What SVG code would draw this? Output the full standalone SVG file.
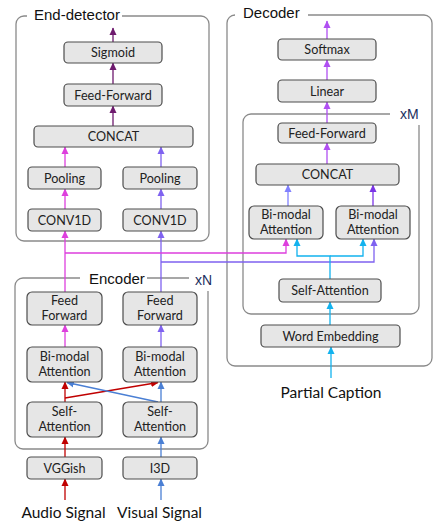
<svg xmlns="http://www.w3.org/2000/svg" width="433" height="523" viewBox="0 0 433 523">
<defs>
<style>
.box{fill:#e6e6e6;stroke:#4d4d4d;stroke-width:1.2}
.lbl{font-family:Lato,"Noto Sans",sans-serif;font-size:12.6px;fill:#222;text-anchor:middle}
.ttl{font-family:"Liberation Sans",Arial,sans-serif;font-size:15px;fill:#111}
.rep{font-family:"Liberation Sans",Arial,sans-serif;font-size:14px;fill:#1c2f5e}
.sig{font-family:Lato,"Noto Sans",sans-serif;font-size:15.5px;fill:#111}
.cont{fill:none;stroke:#8a8a8a;stroke-width:1.3}
.c{fill:none;stroke-width:1.3}
</style>
<marker id="aR" markerWidth="8" markerHeight="8" refX="7" refY="4" orient="auto" markerUnits="userSpaceOnUse"><path d="M0,0.5 L7.5,4 L0,7.5 z" fill="#c00000"/></marker>
<marker id="aB" markerWidth="8" markerHeight="8" refX="7" refY="4" orient="auto" markerUnits="userSpaceOnUse"><path d="M0,0.5 L7.5,4 L0,7.5 z" fill="#4a7fd4"/></marker>
<marker id="aM" markerWidth="8" markerHeight="8" refX="7" refY="4" orient="auto" markerUnits="userSpaceOnUse"><path d="M0,0.5 L7.5,4 L0,7.5 z" fill="#dd3fdd"/></marker>
<marker id="aP" markerWidth="8" markerHeight="8" refX="7" refY="4" orient="auto" markerUnits="userSpaceOnUse"><path d="M0,0.5 L7.5,4 L0,7.5 z" fill="#7f62f0"/></marker>
<marker id="aD" markerWidth="8" markerHeight="8" refX="7" refY="4" orient="auto" markerUnits="userSpaceOnUse"><path d="M0,0.5 L7.5,4 L0,7.5 z" fill="#6e1a6e"/></marker>
<marker id="aL" markerWidth="8" markerHeight="8" refX="7" refY="4" orient="auto" markerUnits="userSpaceOnUse"><path d="M0,0.5 L7.5,4 L0,7.5 z" fill="#b04ff2"/></marker>
<marker id="aC" markerWidth="8" markerHeight="8" refX="7" refY="4" orient="auto" markerUnits="userSpaceOnUse"><path d="M0,0.5 L7.5,4 L0,7.5 z" fill="#12b2ee"/></marker>
<marker id="aV" markerWidth="8" markerHeight="8" refX="7" refY="4" orient="auto" markerUnits="userSpaceOnUse"><path d="M0,0.5 L7.5,4 L0,7.5 z" fill="#8080ff"/></marker>
<marker id="aW" markerWidth="8" markerHeight="8" refX="7" refY="4" orient="auto" markerUnits="userSpaceOnUse"><path d="M0,0.5 L7.5,4 L0,7.5 z" fill="#7a34e6"/></marker>
</defs>
<rect width="433" height="523" fill="#fff"/>

<g id="containers">
<g id="end-detector">
<path class="cont" d="M27,16 H24 A8 8 0 0 0 16 24 V233 A8 8 0 0 0 24 241 H201 A8 8 0 0 0 209 233 V24 A8 8 0 0 0 201 16 H122"/>
<text class="ttl" x="34" y="19.5">End-detector</text>
</g>
<g id="encoder">
<path class="cont" d="M80,278 H23 A8 8 0 0 0 15 286 V441 A8 8 0 0 0 23 449 H200 A8 8 0 0 0 208 441 V291"/>
<path class="cont" d="M147,278 H189"/>
<text class="ttl" x="89" y="284">Encoder</text>
<text class="rep" x="195" y="285">xN</text>
</g>
<g id="decoder">
<path class="cont" d="M235,15 A8 8 0 0 0 227 23 V358 A8 8 0 0 0 235 366 H424 A8 8 0 0 0 432 358 V23 A8 8 0 0 0 424 15 H308"/>
<text class="ttl" x="243" y="17.5">Decoder</text>
</g>
<g id="decoder-layer">
<path class="cont" d="M390,114 H251 A8 8 0 0 0 243 122 V306 A8 8 0 0 0 251 314 H411 A8 8 0 0 0 419 306 V125"/>
<text class="rep" x="400" y="118.5">xM</text>
</g>
</g>

<g id="connectors">
<path class="c" stroke="#6e1a6e" d="M113,42 V28" marker-end="url(#aD)"/>
<path class="c" stroke="#6e1a6e" d="M113,84 V63" marker-end="url(#aD)"/>
<path class="c" stroke="#6e1a6e" d="M113,126 V106" marker-end="url(#aD)"/>
<path class="c" stroke="#dd3fdd" d="M65,167 V147" marker-end="url(#aM)"/>
<path class="c" stroke="#7f62f0" d="M161,167 V147" marker-end="url(#aP)"/>
<path class="c" stroke="#dd3fdd" d="M65,209 V189" marker-end="url(#aM)"/>
<path class="c" stroke="#7f62f0" d="M161,209 V189" marker-end="url(#aP)"/>
<path class="c" stroke="#dd3fdd" d="M65,292 V231" marker-end="url(#aM)"/>
<path class="c" stroke="#7f62f0" d="M161,292 V231" marker-end="url(#aP)"/>
<path class="c" stroke="#dd3fdd" d="M65,253 H286 V239" marker-end="url(#aM)"/>
<path class="c" stroke="#7f62f0" d="M161,262 H374 V239" marker-end="url(#aP)"/>
<path class="c" stroke="#dd3fdd" d="M65,347 V325" marker-end="url(#aM)"/>
<path class="c" stroke="#7f62f0" d="M161,347 V325" marker-end="url(#aP)"/>
<path class="c" stroke="#c00000" d="M65,402 V382" marker-end="url(#aR)"/>
<path class="c" stroke="#4a7fd4" d="M161,402 V382" marker-end="url(#aB)"/>
<path class="c" stroke="#c00000" d="M65,398 L158,382.5" marker-end="url(#aR)"/>
<path class="c" stroke="#4a7fd4" d="M158,402 L67,382.5" marker-end="url(#aB)"/>
<path class="c" stroke="#c00000" d="M65,457 V437" marker-end="url(#aR)"/>
<path class="c" stroke="#4a7fd4" d="M161,457 V437" marker-end="url(#aB)"/>
<path class="c" stroke="#c00000" d="M65,500 V479" marker-end="url(#aR)"/>
<path class="c" stroke="#4a7fd4" d="M161,500 V479" marker-end="url(#aB)"/>
<path class="c" stroke="#b04ff2" d="M327,39 V21" marker-end="url(#aL)"/>
<path class="c" stroke="#b04ff2" d="M327,80 V60" marker-end="url(#aL)"/>
<path class="c" stroke="#b04ff2" d="M327,123 V102" marker-end="url(#aL)"/>
<path class="c" stroke="#b04ff2" d="M327,164 V143" marker-end="url(#aL)"/>
<path class="c" stroke="#8080ff" d="M288,206 V185" marker-end="url(#aV)"/>
<path class="c" stroke="#7a34e6" d="M373,206 V185" marker-end="url(#aW)"/>
<path class="c" stroke="#12b2ee" d="M330,279 V256 H297 V239" marker-end="url(#aC)"/>
<path class="c" stroke="#12b2ee" d="M330,256 H363 V239" marker-end="url(#aC)"/>
<path class="c" stroke="#12b2ee" d="M330,325 V302" marker-end="url(#aC)"/>
<path class="c" stroke="#12b2ee" d="M331,378 V347" marker-end="url(#aC)"/>
</g>

<g id="sigmoid"><rect class="box" x="64" y="42" width="98" height="21" rx="4"/><text class="lbl" x="113" y="57">Sigmoid</text></g>
<g id="ed-feed-forward"><rect class="box" x="64" y="84" width="98" height="22" rx="4"/><text class="lbl" x="113" y="99.5">Feed-Forward</text></g>
<g id="ed-concat"><rect class="box" x="34" y="126" width="159" height="21" rx="4"/><text class="lbl" x="113.5" y="141">CONCAT</text></g>
<g id="pooling-a"><rect class="box" x="28" y="167" width="73" height="22" rx="4"/><text class="lbl" x="64.5" y="182.5">Pooling</text></g>
<g id="pooling-v"><rect class="box" x="123" y="167" width="74" height="22" rx="4"/><text class="lbl" x="160" y="182.5">Pooling</text></g>
<g id="conv1d-a"><rect class="box" x="28" y="209" width="73" height="22" rx="4"/><text class="lbl" x="64.5" y="224.5">CONV1D</text></g>
<g id="conv1d-v"><rect class="box" x="123" y="209" width="74" height="22" rx="4"/><text class="lbl" x="160" y="224.5">CONV1D</text></g>

<g id="enc-ff-a"><rect class="box" x="27" y="292" width="75" height="33" rx="5"/><text class="lbl" x="64.5" y="305">Feed</text><text class="lbl" x="64.5" y="320">Forward</text></g>
<g id="enc-ff-v"><rect class="box" x="123" y="292" width="74" height="33" rx="5"/><text class="lbl" x="160" y="305">Feed</text><text class="lbl" x="160" y="320">Forward</text></g>
<g id="enc-bm-a"><rect class="box" x="27" y="347" width="75" height="35" rx="5"/><text class="lbl" x="64.5" y="360.5">Bi-modal</text><text class="lbl" x="64.5" y="375.5">Attention</text></g>
<g id="enc-bm-v"><rect class="box" x="123" y="347" width="74" height="35" rx="5"/><text class="lbl" x="160" y="360.5">Bi-modal</text><text class="lbl" x="160" y="375.5">Attention</text></g>
<g id="enc-sa-a"><rect class="box" x="27" y="402" width="75" height="35" rx="5"/><text class="lbl" x="64.5" y="416">Self-</text><text class="lbl" x="64.5" y="431">Attention</text></g>
<g id="enc-sa-v"><rect class="box" x="123" y="402" width="74" height="35" rx="5"/><text class="lbl" x="160" y="416">Self-</text><text class="lbl" x="160" y="431">Attention</text></g>
<g id="vggish"><rect class="box" x="27" y="457" width="75" height="22" rx="4"/><text class="lbl" x="64.5" y="472.5">VGGish</text></g>
<g id="i3d"><rect class="box" x="123" y="457" width="74" height="22" rx="4"/><text class="lbl" x="160" y="472.5">I3D</text></g>
<g id="audio-signal"><text class="sig" x="63.5" y="518" text-anchor="middle">Audio Signal</text></g>
<g id="visual-signal"><text class="sig" x="159.5" y="518" text-anchor="middle">Visual Signal</text></g>

<g id="softmax"><rect class="box" x="278" y="39" width="98" height="21" rx="4"/><text class="lbl" x="327" y="54">Softmax</text></g>
<g id="linear"><rect class="box" x="278" y="80" width="98" height="22" rx="4"/><text class="lbl" x="327" y="95.5">Linear</text></g>
<g id="dec-feed-forward"><rect class="box" x="278" y="123" width="98" height="20" rx="4"/><text class="lbl" x="327" y="137.5">Feed-Forward</text></g>
<g id="dec-concat"><rect class="box" x="256" y="164" width="143" height="21" rx="4"/><text class="lbl" x="327.5" y="179">CONCAT</text></g>
<g id="dec-bm-a"><rect class="box" x="249" y="206" width="74" height="33" rx="5"/><text class="lbl" x="286" y="218.5">Bi-modal</text><text class="lbl" x="286" y="233.5">Attention</text></g>
<g id="dec-bm-v"><rect class="box" x="336" y="206" width="74" height="33" rx="5"/><text class="lbl" x="373" y="218.5">Bi-modal</text><text class="lbl" x="373" y="233.5">Attention</text></g>
<g id="dec-self-attention"><rect class="box" x="279" y="279" width="102" height="23" rx="4"/><text class="lbl" x="330" y="295">Self-Attention</text></g>
<g id="word-embedding"><rect class="box" x="261" y="325" width="139" height="22" rx="4"/><text class="lbl" x="330.5" y="340.5">Word Embedding</text></g>
<g id="partial-caption"><text class="sig" x="331" y="398" text-anchor="middle">Partial Caption</text></g>
</svg>
